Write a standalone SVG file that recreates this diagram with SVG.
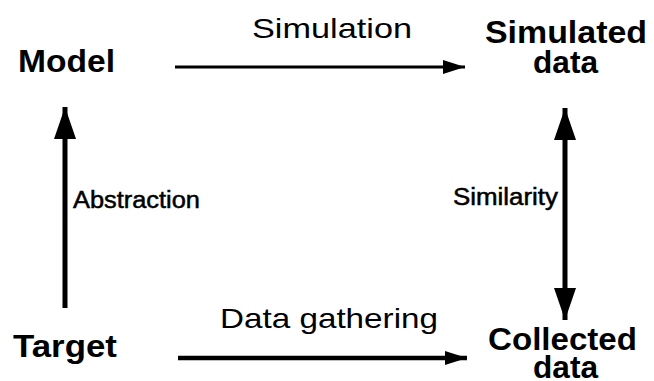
<svg xmlns="http://www.w3.org/2000/svg" width="654" height="381" viewBox="0 0 654 381">
  <style>
    .node { font-family: "Liberation Sans", Arial, sans-serif; font-weight: bold; font-size: 31px; fill: #000; }
    .lbl { font-family: "Liberation Sans", Arial, sans-serif; font-size: 28px; fill: #000; }
    .small { font-family: "Liberation Sans", Arial, sans-serif; font-size: 23px; fill: #000; stroke: #000; stroke-width: 0.5; }
    .edge { stroke: #000; fill: none; }
  </style>
  <defs>
    <marker id="head" viewBox="0 0 22 14" refX="22" refY="7" markerWidth="22" markerHeight="14" markerUnits="userSpaceOnUse" orient="auto-start-reverse">
      <path d="M0,0 L22,7 L0,14 Z" fill="#000"/>
    </marker>
    <marker id="vhead" viewBox="0 0 32 22" refX="32" refY="11" markerWidth="32" markerHeight="22" markerUnits="userSpaceOnUse" orient="auto-start-reverse">
      <path d="M0,0 L32,11 L0,22 Z" fill="#000"/>
    </marker>
  </defs>

  <g id="model"><text class="node" x="18" y="72" textLength="97" lengthAdjust="spacingAndGlyphs">Model</text></g>
  <g id="simulated-data">
    <text class="node"><tspan x="485" y="43" textLength="162" lengthAdjust="spacingAndGlyphs">Simulated</tspan><tspan x="533" y="73" textLength="65" lengthAdjust="spacingAndGlyphs">data</tspan></text>
  </g>
  <g id="target"><text class="node" x="13" y="357" textLength="104" lengthAdjust="spacingAndGlyphs">Target</text></g>
  <g id="collected-data">
    <text class="node"><tspan x="488" y="350" textLength="149" lengthAdjust="spacingAndGlyphs">Collected</tspan><tspan x="533" y="378" textLength="65" lengthAdjust="spacingAndGlyphs">data</tspan></text>
  </g>

  <g id="connectors">
    <line class="edge" x1="175" y1="67" x2="465" y2="67" stroke-width="3" marker-end="url(#head)"/>
    <line class="edge" x1="178" y1="358" x2="467" y2="358" stroke-width="4.5" marker-end="url(#head)"/>
    <line class="edge" x1="65" y1="308" x2="65" y2="107" stroke-width="5" marker-end="url(#vhead)"/>
    <line class="edge" x1="565" y1="108" x2="565" y2="320" stroke-width="5" marker-start="url(#vhead)" marker-end="url(#vhead)"/>
    <text class="lbl" x="252" y="38" textLength="160" lengthAdjust="spacingAndGlyphs">Simulation</text>
    <text class="lbl" x="220" y="328" textLength="218" lengthAdjust="spacingAndGlyphs">Data gathering</text>
    <text class="small" x="73" y="208" textLength="127" lengthAdjust="spacingAndGlyphs">Abstraction</text>
    <text class="small" x="453" y="205" textLength="105" lengthAdjust="spacingAndGlyphs">Similarity</text>
  </g>
</svg>
